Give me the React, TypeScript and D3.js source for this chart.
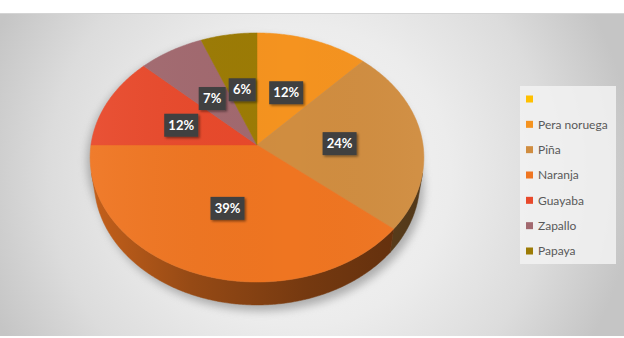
import React from "react";
import * as d3 from "d3";

const categories = ["", "Pera noruega", "Piña", "Naranja", "Guayaba", "Zapallo", "Papaya"];
const values = [0, 12, 24, 39, 12, 7, 6];
const colors = ["#FFC000", "#F5931F", "#D08D40", "#EF7521", "#E8492B", "#A2696F", "#9C7B05"];

const W = 624;
const H = 338;

// 3D projection parameters (pie of unit radius, tilted, with perspective)
const CX = 257;
const CY = 145;
const F = 1109;
const DIST = 6.68;
const SA = 0.7426;
const CA = 0.6696;
const DEPTH = 0.221;

function proj(theta: number, r: number, y: number): [number, number] {
  const X = r * Math.sin(theta);
  const Z = r * Math.cos(theta);
  const d = DIST + Z * CA - y * SA;
  const v = Z * SA + y * CA;
  return [CX + (F * X) / d, CY - (F * v) / d];
}

function arcPoints(a0: number, a1: number, y: number): [number, number][] {
  const n = Math.max(2, Math.ceil(Math.abs(a1 - a0) / 0.01));
  const pts: [number, number][] = [];
  for (let i = 0; i <= n; i++) {
    const t = a0 + ((a1 - a0) * i) / n;
    pts.push(proj(t, 1, y));
  }
  return pts;
}

export default function App() {
  const pie = d3
    .pie<number>()
    .sort(null)
    .value((d) => d)
    .startAngle(0)
    .endAngle(2 * Math.PI);
  const arcs = pie(values);
  const line = d3.line();
  const total = d3.sum(values);
  const fmt = d3.format(".0%");

  const visLimit = Math.acos(-1 / (DIST * CA));
  const vis0 = visLimit;
  const vis1 = 2 * Math.PI - visLimit;

  const topFull = line(arcPoints(0, 2 * Math.PI, 0)) + "Z";
  const botFull = line(arcPoints(0, 2 * Math.PI, -DEPTH)) + "Z";

  const legendY = d3.scaleLinear().domain([0, categories.length - 1]).range([99, 251]);

  return (
    <svg width={W} height={H} style={{ position: "absolute", left: 0, top: 0 }}>
      <defs>
        <radialGradient id="bg" gradientUnits="userSpaceOnUse" cx={300} cy={175} r={335}>
          <stop offset="0" stopColor="#F6F6F6" />
          <stop offset="0.45" stopColor="#ECECEC" />
          <stop offset="0.75" stopColor="#DCDCDC" />
          <stop offset="1" stopColor="#C5C5C5" />
        </radialGradient>
        <filter id="blur" x="-20%" y="-20%" width="140%" height="140%">
          <feGaussianBlur stdDeviation="4" />
        </filter>
        <filter id="lblShadow" x="-30%" y="-30%" width="160%" height="160%">
          <feDropShadow dx="1.5" dy="1.5" stdDeviation="1.2" floodColor="#000" floodOpacity="0.45" />
        </filter>
        {arcs.map((a, i) => {
          const c = d3.color(colors[i])!;
          return (
            <linearGradient key={i} id={`side${i}`} gradientUnits="userSpaceOnUse" x1={CX - 166} x2={CX + 166} y1={0} y2={0}>
              <stop offset="0" stopColor={c.darker(0.55).formatHex()} />
              <stop offset="0.3" stopColor={c.darker(1.3).formatHex()} />
              <stop offset="0.65" stopColor={c.darker(2.0).formatHex()} />
              <stop offset="1" stopColor={c.darker(2.6).formatHex()} />
            </linearGradient>
          );
        })}
        <linearGradient id="topSheen" gradientUnits="userSpaceOnUse" x1={CX - 166} x2={CX + 166} y1={0} y2={0}>
          <stop offset="0" stopColor="#FFFFFF" stopOpacity="0.05" />
          <stop offset="0.6" stopColor="#000000" stopOpacity="0.0" />
          <stop offset="1" stopColor="#FFFFFF" stopOpacity="0.03" />
        </linearGradient>
      </defs>

      <rect x={0} y={0} width={W} height={H} fill="#FFFFFF" />
      <rect x={0} y={13} width={W} height={323} fill="url(#bg)" />
      <line x1={0} x2={W} y1={13.5} y2={13.5} stroke="#D4D4D4" strokeWidth={1} />

      {/* shadow */}
      <g filter="url(#blur)" fill="#7A7A7A" opacity={0.55} transform="translate(0,4)">
        <path d={topFull} transform="translate(-3,0)" />
        <path d={botFull} transform="translate(4,2)" />
      </g>

      {/* sides */}
      {arcs.map((a, i) => {
        if (a.value <= 0) return null;
        const a0 = Math.max(a.startAngle, vis0);
        const a1 = Math.min(a.endAngle, vis1);
        if (a1 <= a0) return null;
        const top = arcPoints(a0, a1, 0);
        const bot = arcPoints(a0, a1, -DEPTH).reverse();
        return <path key={i} d={line([...top, ...bot]) + "Z"} fill={`url(#side${i})`} stroke={`url(#side${i})`} strokeWidth={0.5} />;
      })}

      {/* top faces */}
      {arcs.map((a, i) => {
        if (a.value <= 0) return null;
        const pts = [proj(0, 0, 0), ...arcPoints(a.startAngle, a.endAngle, 0)];
        return <path key={i} d={line(pts) + "Z"} fill={colors[i]} stroke={colors[i]} strokeWidth={0.5} strokeLinejoin="round" />;
      })}
      <path d={topFull} fill="url(#topSheen)" />

      {/* data labels */}
      {arcs.map((a, i) => {
        if (a.value <= 0) return null;
        const mid = (a.startAngle + a.endAngle) / 2;
        const [x, y] = proj(mid, 0.5, 0);
        const txt = fmt(a.value / total);
        const w = txt.length === 2 ? 27 : 34;
        return (
          <g key={i} transform={`translate(${x},${y + 2.5})`}>
            <rect x={-w / 2} y={-11.5} width={w} height={23} fill="#404040" filter="url(#lblShadow)" />
            <text
              x={0}
              y={0}
              dy="0.36em"
              textAnchor="middle"
              fill="#FFFFFF"
              fontFamily="Lato, 'Open Sans', sans-serif"
              fontWeight="bold"
              fontSize={13}
            >
              {txt}
            </text>
          </g>
        );
      })}

      {/* legend */}
      <rect x={520} y={86} width={96} height={178} fill="#F2F2F2" opacity={0.85} />
      {categories.map((c, i) => (
        <g key={i} transform={`translate(526,${legendY(i)})`}>
          <rect x={0} y={-3.5} width={7} height={7} fill={colors[i]} />
          <text x={12} y={0} dy="0.35em" fill="#595959" fontFamily="Lato, sans-serif" fontSize={12}>
            {c}
          </text>
        </g>
      ))}
    </svg>
  );
}
